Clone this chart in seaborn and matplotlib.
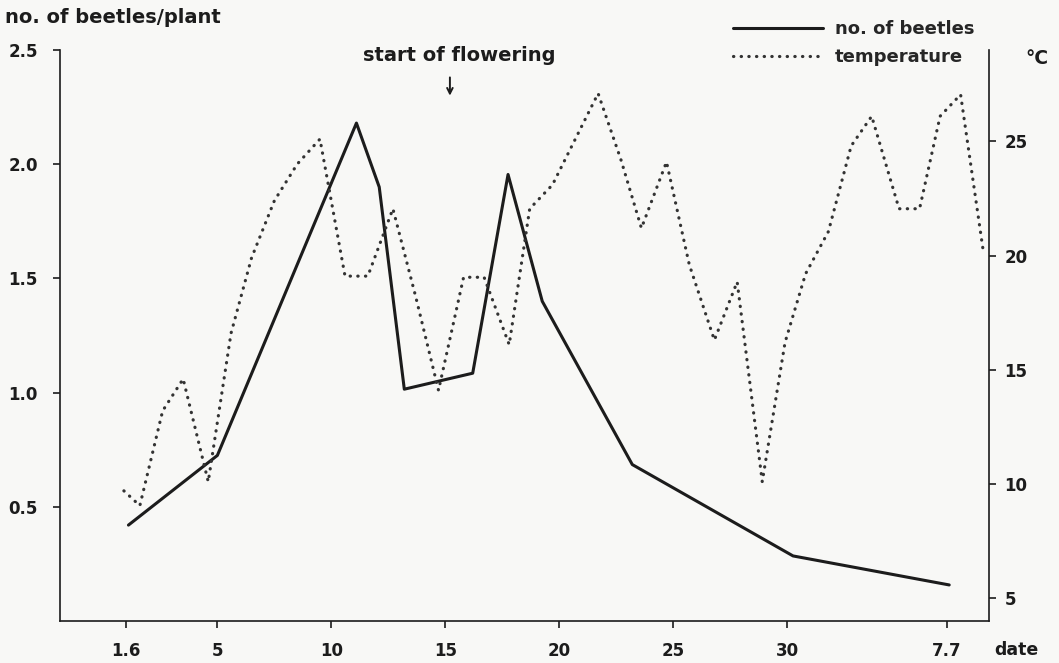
import matplotlib
matplotlib.use('Agg')
import matplotlib.pyplot as plt
import seaborn as sns

# beetles per plant (solid line), day of season (1 = 1 June)
beetle_day = [1.1, 5.0, 11.1, 12.1, 13.2, 16.2, 17.75, 19.25, 23.2, 30.25, 37.1]
beetle_no = [0.42, 0.725, 2.18, 1.90, 1.015, 1.085, 1.955, 1.40, 0.685, 0.285, 0.158]

# temperature (dotted line), deg C
temp_day = [0.9, 1.6, 2.6, 3.5, 4.6, 5.6, 6.5, 7.5, 8.5, 9.5,
            10.6, 11.6, 12.7, 13.7, 14.7, 15.8, 16.7, 17.8, 18.7, 19.7,
            20.7, 21.7, 22.7, 23.6, 24.7, 25.7, 26.8, 27.8, 28.9, 29.9,
            30.8, 31.8, 32.8, 33.7, 34.9, 35.8, 36.7, 37.6, 38.6]
temp_c = [9.7, 9.05, 13.2, 14.6, 10.1, 16.6, 19.9, 22.4, 24.0, 25.1,
          19.1, 19.1, 22.05, 18.2, 14.1, 19.05, 19.05, 16.1, 22.05, 23.1,
          25.1, 27.1, 24.2, 21.2, 24.1, 19.6, 16.3, 18.85, 10.1, 16.2,
          19.2, 21.05, 24.8, 26.1, 22.05, 22.05, 26.1, 27.05, 20.15]

x_ticks = [1, 5, 10, 15, 20, 25, 30, 37]
x_labels = ['1.6', '5', '10', '15', '20', '25', '30', '7.7']
left_ticks = [0.5, 1.0, 1.5, 2.0, 2.5]
right_ticks = [5, 10, 15, 20, 25]

sns.set_style('ticks')
plt.rcParams['font.family'] = ['DejaVu Sans']
plt.rcParams['font.weight'] = 'bold'

ink = '#1c1c1c'
paper = '#f8f8f6'

fig = plt.figure(figsize=(10.59, 6.63), dpi=100, facecolor=paper)
ax = fig.add_axes([0.0567, 0.0633, 0.8773, 0.8613])
ax.set_facecolor(paper)
ax2 = ax.twinx()

sns.lineplot(x=beetle_day, y=beetle_no, ax=ax, color=ink, lw=2.2,
             sort=False, estimator=None, label='no. of beetles', legend=False)
sns.lineplot(x=temp_day, y=temp_c, ax=ax2, color='#333333', lw=2.3,
             linestyle=(0, (0.1, 2.3)), dash_capstyle='round',
             sort=False, estimator=None, label='temperature', legend=False)

ax.set_xlim(-1.9, 38.85)
ax.set_ylim(0, 2.5)
ax2.set_ylim(4, 29)

ax.set_xticks(x_ticks)
ax.set_xticklabels(x_labels)
ax.set_yticks(left_ticks)
ax.set_yticklabels([f'{v:.1f}' for v in left_ticks])
ax2.set_yticks(right_ticks)
ax2.set_yticklabels([str(v) for v in right_ticks])
ax.set_xlabel('')
ax.set_ylabel('')
ax2.set_ylabel('')

for a in (ax, ax2):
    a.spines['top'].set_visible(False)
    for s in a.spines.values():
        s.set_linewidth(1.2)
        s.set_color(ink)
ax.spines['right'].set_visible(False)
ax2.spines['left'].set_visible(False)
ax2.spines['bottom'].set_visible(False)

ax.tick_params(axis='x', direction='out', length=5, width=1.2, color=ink,
               labelsize=12, pad=10, labelcolor=ink)
ax.tick_params(axis='y', direction='out', length=5, width=1.2, color=ink,
               labelsize=12, pad=11, labelcolor=ink)
ax2.tick_params(axis='y', direction='out', length=5, width=1.2, color=ink,
                labelsize=12, pad=6, labelcolor=ink)

# annotations
fig.text(0.005, 0.974, 'no. of beetles/plant', fontsize=14, ha='left',
         va='center', color=ink)
fig.text(0.979, 0.912, '°C', fontsize=13.5, ha='center', va='center', color=ink)
fig.text(0.960, 0.019, 'date', fontsize=12.5, ha='center', va='center', color=ink)
ax.text(15.6, 2.478, 'start of flowering', fontsize=14, ha='center',
        va='center', color=ink)
ax.annotate('', xy=(15.2, 2.30), xytext=(15.2, 2.38),
            arrowprops=dict(arrowstyle='->', lw=1.4, color=ink,
                            shrinkA=0, shrinkB=0))

handles = ax.get_lines()[:1] + ax2.get_lines()[:1]
fig.legend(handles, ['no. of beetles', 'temperature'], loc='upper left',
           bbox_to_anchor=(0.692, 0.970), frameon=False, fontsize=13,
           handlelength=5.0, handletextpad=0.65, labelspacing=0.55,
           borderpad=0, borderaxespad=0)

fig.savefig('out.png', dpi=100, facecolor=paper)
